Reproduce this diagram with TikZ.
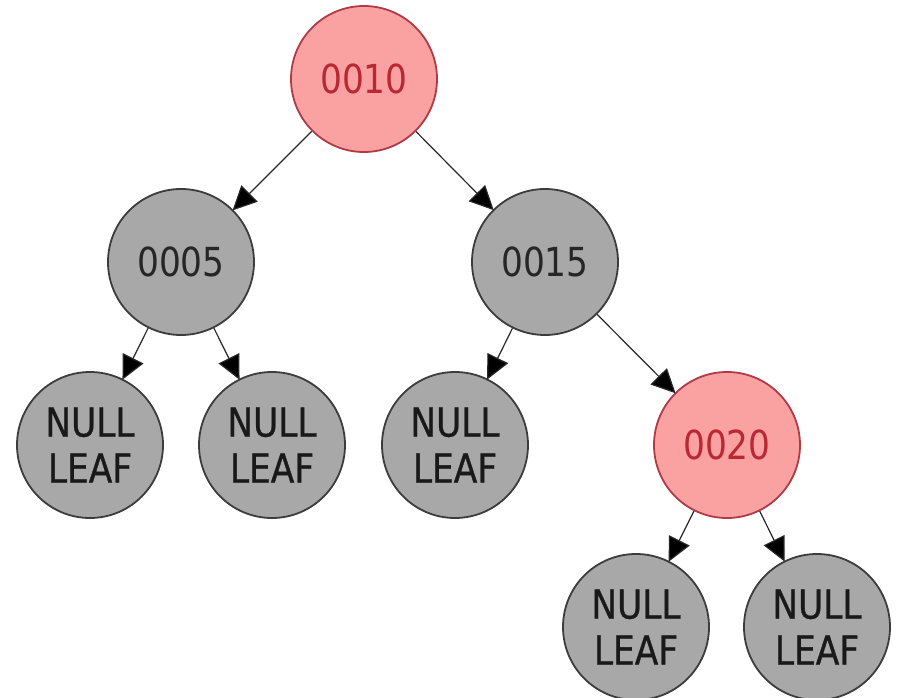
\documentclass[tikz,border=0pt]{standalone}
\usepackage{fontspec}
\usetikzlibrary{arrows.meta}
\newfontfamily\keyfont[FakeStretch=0.86]{DejaVu Sans}
\newfontfamily\leaffont[FakeStretch=0.86,FakeBold=0.8]{DejaVu Sans}
\definecolor{blackfill}{RGB}{168,168,168}
\definecolor{blackedge}{RGB}{60,60,60}
\definecolor{redfill}{RGB}{250,162,162}
\definecolor{rededge}{RGB}{176,58,70}
\definecolor{redtext}{RGB}{185,40,52}
\definecolor{edgeline}{RGB}{40,40,40}
\begin{document}
\begin{tikzpicture}[x=1pt,y=-1pt,
  rbnode/.style={circle, minimum size=146pt, inner sep=0pt, line width=1.8pt,
    font=\keyfont\fontsize{40}{46}\selectfont, align=center},
  blacknode/.style={rbnode, fill=blackfill, draw=blackedge, text=black!85},
  rednode/.style={rbnode, fill=redfill, draw=rededge, text=redtext},
  leafnode/.style={blacknode, font=\leaffont\fontsize{40}{46}\selectfont, text=black!90},
  link/.style={draw=edgeline, line width=1.2pt,
    -{Triangle[length=24pt,width=23pt,fill=black]}, shorten >=-1pt}]
\useasboundingbox (0,0) rectangle (900,698);

% internal nodes
\node[rednode]   (n10) at (364,79)  {0010};
\node[blacknode] (n5)  at (181,262) {0005};
\node[blacknode] (n15) at (545,262) {0015};
\node[rednode]   (n20) at (727,445) {0020};

% leaves
\node[leafnode] (l1) at (90,445)  {NULL\\LEAF};
\node[leafnode] (l2) at (272,445) {NULL\\LEAF};
\node[leafnode] (l3) at (455,445) {NULL\\LEAF};
\node[leafnode] (l4) at (636,627) {NULL\\LEAF};
\node[leafnode] (l5) at (817,627) {NULL\\LEAF};

% tree edges
\draw[link] (n10) -- (n5);
\draw[link] (n10) -- (n15);
\draw[link] (n5)  -- (l1);
\draw[link] (n5)  -- (l2);
\draw[link] (n15) -- (l3);
\draw[link] (n15) -- (n20);
\draw[link] (n20) -- (l4);
\draw[link] (n20) -- (l5);
\end{tikzpicture}
\end{document}
